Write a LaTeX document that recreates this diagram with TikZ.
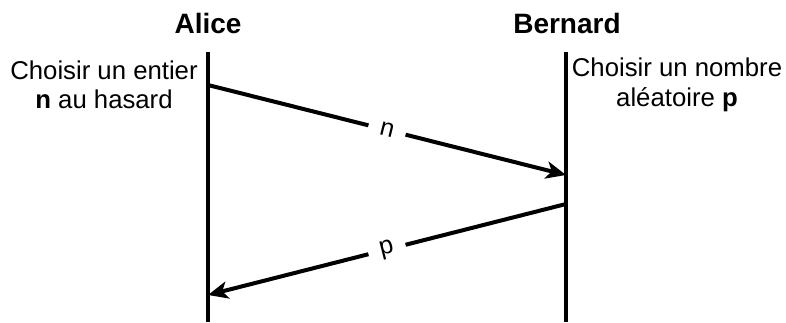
\documentclass[tikz,border=0pt]{standalone}
\usepackage{fontspec}
\setmainfont{Liberation Sans}
\usetikzlibrary{arrows.meta}
\begin{document}
\begin{tikzpicture}[x=0.75pt,y=-0.75pt,line width=3pt,
  actor/.style={font=\fontsize{21}{24}\selectfont\bfseries},
  note/.style={font=\fontsize{19.3}{22}\selectfont,align=center},
  msg/.style={-{Stealth[length=15pt,width=13pt,inset=4pt]}},
  msglabel/.style={fill=white,sloped,inner sep=9pt,font=\fontsize{19}{20}\selectfont}]
 \useasboundingbox (0,0) rectangle (786,322);
 \node[actor] (alice) at (208,23) {Alice};
 \node[actor] (bernard) at (567,23) {Bernard};
 \coordinate (atop) at (208,52);
 \coordinate (abot) at (208,322);
 \coordinate (btop) at (566,52);
 \coordinate (bbot) at (566,322);
 \draw (atop)--(abot);
 \draw (btop)--(bbot);
 \node[note] (anote) at (104,85) {Choisir un entier\\\textbf{n} au hasard};
 \node[note] (bnote) at (677,85) {Choisir un nombre\\aléatoire \textbf{p}};
 \coordinate (nfrom) at (208,85);
 \coordinate (nto) at (566,175);
 \coordinate (pfrom) at (566,204);
 \coordinate (pto) at (208,295);
 \draw[msg] (nfrom) -- node[msglabel] {n} (nto);
 \draw[msg] (pfrom) -- node[msglabel] {p} (pto);
\end{tikzpicture}
\end{document}
